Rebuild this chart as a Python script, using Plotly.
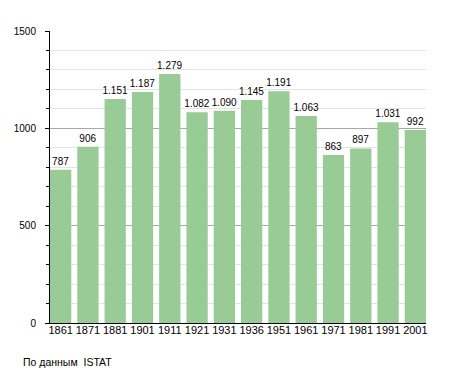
import plotly.graph_objects as go

years = ["1861", "1871", "1881", "1901", "1911", "1921", "1931", "1936",
         "1951", "1961", "1971", "1981", "1991", "2001"]
population = [787, 906, 1151, 1187, 1279, 1082, 1090, 1145, 1191, 1063,
              863, 897, 1031, 992]
y_ticks = [0, 500, 1000, 1500]
source_note = "По данным  ISTAT"

FONT = "Liberation Sans, Arial, sans-serif"
bargap = 0.22
w = 1 - bargap

# the page body adds an 8px offset; compensate in the margins
L, T = 42, 23
PW, PH = 376, 292
R = 455 - L - PW
B = 373 - T - PH

fig = go.Figure(go.Bar(
    x=list(range(len(years))),
    y=population,
    marker=dict(color="#98CB95", line=dict(width=0)),
    texttemplate="%{y:,}",
    textposition="outside",
    constraintext="none",
    textfont=dict(family=FONT, size=10, color="black"),
    cliponaxis=False,
    hoverinfo="skip",
))

fig.update_layout(
    width=455, height=373,
    margin=dict(l=L, r=R, t=T, b=B, autoexpand=False),
    paper_bgcolor="white", plot_bgcolor="white",
    separators=",.",
    bargap=bargap,
    showlegend=False,
    font=dict(family=FONT, size=11, color="black"),
    xaxis=dict(
        tickmode="array",
        tickvals=list(range(len(years))),
        ticktext=years,
        range=[-w / 2, len(years) - 1 + w / 2],
        showgrid=False,
        showline=True, linecolor="black", linewidth=1,
        ticks="", zeroline=False,
        tickfont=dict(size=11),
        ticklabelstandoff=-3,
    ),
    yaxis=dict(
        range=[0, 1500],
        tickvals=y_ticks,
        tickformat="d",
        showline=True, linecolor="black", linewidth=1,
        ticks="outside", ticklen=4, tickcolor="black",
        showgrid=True, gridcolor="#a8a8a8", gridwidth=1,
        zeroline=False,
        minor=dict(dtick=100, ticks="outside", ticklen=3, tickcolor="black",
                   showgrid=True, gridcolor="#e4e4e4", gridwidth=1),
        tickfont=dict(size=10),
        ticklabelstandoff=7,
    ),
    annotations=[dict(
        text=source_note, xref="paper", yref="paper",
        x=(13 - L) / PW, y=-39 / PH, xanchor="left", yanchor="middle",
        showarrow=False, font=dict(size=10.5, color="black"),
    )],
)

fig.write_html("out.html")
